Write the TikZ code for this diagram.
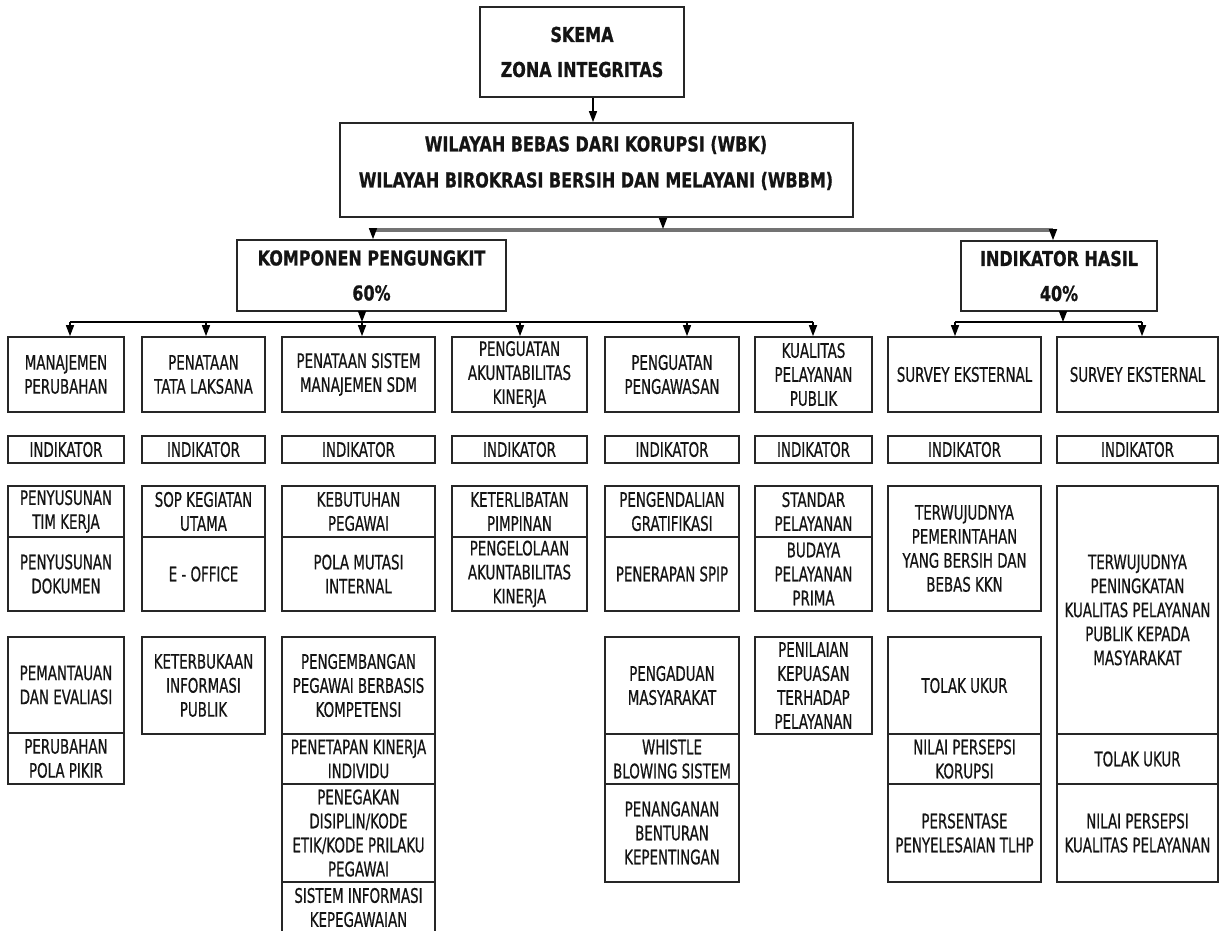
\documentclass[tikz,border=0pt]{standalone}
\usepackage{fontspec}
\usetikzlibrary{arrows.meta}
\newfontfamily\nfont[FakeStretch=0.67,FakeBold=0.6]{DejaVu Sans}
\newfontfamily\hfont[FakeStretch=0.78,FakeBold=0.8]{DejaVu Sans}
\tikzset{
  bx/.style={draw=black!85, line width=1.7pt, inner sep=0pt, align=center,
    text=black!92, font=\nfont\fontsize{20}{24}\selectfont},
  hb/.style={bx, font=\hfont\bfseries\fontsize{20.5}{35}\selectfont},
  txt/.style={inner sep=0pt, align=center, text=black!92,
    font=\hfont\bfseries\fontsize{20.5}{36}\selectfont},
  arr/.style={line width=1.5pt, draw=black, -{Triangle[width=8pt,length=11pt]}},
  bus/.style={line width=1.7pt, draw=black},
  gbus/.style={line width=3.5pt, draw=black!55},
}
\newcommand\bxn[7][bx]{\node[#1, minimum width={#5-#3}, minimum height={#6-#4}] (#2) at ({(#3+#5)/2},{(#4+#6)/2}) {#7};}
\begin{document}
\begin{tikzpicture}[x=1pt,y=-1pt]
\fill[white] (0,0) rectangle (1220,930);
\useasboundingbox (0,0) rectangle (1220,930);

% headings
\bxn[hb]{skema}{480}{7}{684}{97}{SKEMA\\ZONA INTEGRITAS}
\bxn[hb]{wbk}{340}{123}{853}{217}{}
\node[txt] (wbkt) at (596,163) {WILAYAH BEBAS DARI KORUPSI (WBK)\\WILAYAH BIROKRASI BERSIH DAN MELAYANI (WBBM)};
\bxn[hb]{komp}{237}{240}{506}{311}{KOMPONEN PENGUNGKIT\\60\%}
\bxn[hb]{hasil}{961}{241}{1157}{311}{INDIKATOR HASIL\\40\%}

% column 1
\bxn{c1a}{8}{337}{124}{412}{MANAJEMEN\\PERUBAHAN}
\bxn{c1b}{8}{436}{124}{463}{INDIKATOR}
\bxn{c1c}{8}{486}{124}{537}{PENYUSUNAN\\TIM KERJA}
\bxn{c1d}{8}{537}{124}{611}{PENYUSUNAN\\DOKUMEN}
\bxn{c1e}{8}{637}{124}{733}{PEMANTAUAN\\DAN EVALIASI}
\bxn{c1f}{8}{733}{124}{784}{PERUBAHAN\\POLA PIKIR}
% column 2
\bxn{c2a}{142}{337}{265}{412}{PENATAAN\\TATA LAKSANA}
\bxn{c2b}{142}{436}{265}{463}{INDIKATOR}
\bxn{c2c}{142}{486}{265}{537}{SOP KEGIATAN\\UTAMA}
\bxn{c2d}{142}{537}{265}{611}{E - OFFICE}
\bxn{c2e}{142}{637}{265}{734}{KETERBUKAAN\\INFORMASI\\PUBLIK}
% column 3
\bxn{c3a}{282}{337}{435}{412}{PENATAAN SISTEM\\MANAJEMEN SDM}
\bxn{c3b}{282}{436}{435}{463}{INDIKATOR}
\bxn{c3c}{282}{486}{435}{537}{KEBUTUHAN\\PEGAWAI}
\bxn{c3d}{282}{537}{435}{611}{POLA MUTASI\\INTERNAL}
\bxn{c3e}{282}{637}{435}{734}{PENGEMBANGAN\\PEGAWAI BERBASIS\\KOMPETENSI}
\bxn{c3f}{282}{734}{435}{784}{PENETAPAN KINERJA\\INDIVIDU}
\bxn{c3g}{282}{784}{435}{882}{PENEGAKAN\\DISIPLIN/KODE\\ETIK/KODE PRILAKU\\PEGAWAI}
\bxn{c3h}{282}{882}{435}{933}{SISTEM INFORMASI\\KEPEGAWAIAN}
% column 4
\bxn{c4a}{452}{337}{587}{412}{PENGUATAN\\AKUNTABILITAS\\KINERJA}
\bxn{c4b}{452}{436}{587}{463}{INDIKATOR}
\bxn{c4c}{452}{486}{587}{537}{KETERLIBATAN\\PIMPINAN}
\bxn{c4d}{452}{537}{587}{611}{PENGELOLAAN\\AKUNTABILITAS\\KINERJA}
% column 5
\bxn{c5a}{605}{337}{739}{412}{PENGUATAN\\PENGAWASAN}
\bxn{c5b}{605}{436}{739}{463}{INDIKATOR}
\bxn{c5c}{605}{486}{739}{537}{PENGENDALIAN\\GRATIFIKASI}
\bxn{c5d}{605}{537}{739}{611}{PENERAPAN SPIP}
\bxn{c5e}{605}{637}{739}{734}{PENGADUAN\\MASYARAKAT}
\bxn{c5f}{605}{734}{739}{784}{WHISTLE\\BLOWING SISTEM}
\bxn{c5g}{605}{784}{739}{882}{PENANGANAN\\BENTURAN\\KEPENTINGAN}
% column 6
\bxn{c6a}{755}{337}{872}{412}{KUALITAS\\PELAYANAN\\PUBLIK}
\bxn{c6b}{755}{436}{872}{463}{INDIKATOR}
\bxn{c6c}{755}{486}{872}{537}{STANDAR\\PELAYANAN}
\bxn{c6d}{755}{537}{872}{611}{BUDAYA\\PELAYANAN\\PRIMA}
\bxn{c6e}{755}{637}{872}{734}{PENILAIAN\\KEPUASAN\\TERHADAP\\PELAYANAN}
% column 7
\bxn{c7a}{888}{337}{1041}{412}{SURVEY EKSTERNAL}
\bxn{c7b}{888}{436}{1041}{463}{INDIKATOR}
\bxn{c7c}{888}{486}{1041}{611}{TERWUJUDNYA\\PEMERINTAHAN\\YANG BERSIH DAN\\BEBAS KKN}
\bxn{c7d}{888}{637}{1041}{734}{TOLAK UKUR}
\bxn{c7e}{888}{734}{1041}{784}{NILAI PERSEPSI\\KORUPSI}
\bxn{c7f}{888}{784}{1041}{882}{PERSENTASE\\PENYELESAIAN TLHP}
% column 8
\bxn{c8a}{1057}{337}{1218}{412}{SURVEY EKSTERNAL}
\bxn{c8b}{1057}{436}{1218}{463}{INDIKATOR}
\bxn{c8c}{1057}{486}{1218}{734}{TERWUJUDNYA\\PENINGKATAN\\KUALITAS PELAYANAN\\PUBLIK KEPADA\\MASYARAKAT}
\bxn{c8d}{1057}{734}{1218}{784}{TOLAK UKUR}
\bxn{c8e}{1057}{784}{1218}{882}{NILAI PERSEPSI\\KUALITAS PELAYANAN}

% connectors
\coordinate (xa) at (593,0);
\draw[arr] (skema.south -| xa) -- (wbk.north -| xa);

\coordinate (g1) at (373,230);
\coordinate (g2) at (1053,230);
\coordinate (gw) at (663,229);
\draw[gbus] (g1) -- (g2);
\draw[arr] (wbk.south -| gw) -- (gw);
\draw[arr] (g1) -- (komp.north -| g1);
\draw[arr] (g2) -- (hasil.north -| g2);

\coordinate (b1) at (70,322);
\coordinate (b2) at (206,322);
\coordinate (b3) at (362,322);
\coordinate (b4) at (520,322);
\coordinate (b5) at (687,322);
\coordinate (b6) at (813,322);
\draw[bus] (b1) -- (b6);
\draw[arr] (komp.south -| b3) -- (b3);
\draw[arr] (b1) -- (c1a.north -| b1);
\draw[arr] (b2) -- (c2a.north -| b2);
\draw[arr] (b3) -- (c3a.north -| b3);
\draw[arr] (b4) -- (c4a.north -| b4);
\draw[arr] (b5) -- (c5a.north -| b5);
\draw[arr] (b6) -- (c6a.north -| b6);

\coordinate (h1) at (955,322);
\coordinate (h2) at (1063,322);
\coordinate (h3) at (1142,322);
\draw[bus] (h1) -- (h3);
\draw[arr] (hasil.south -| h2) -- (h2);
\draw[arr] (h1) -- (c7a.north -| h1);
\draw[arr] (h3) -- (c8a.north -| h3);
\end{tikzpicture}
\end{document}
